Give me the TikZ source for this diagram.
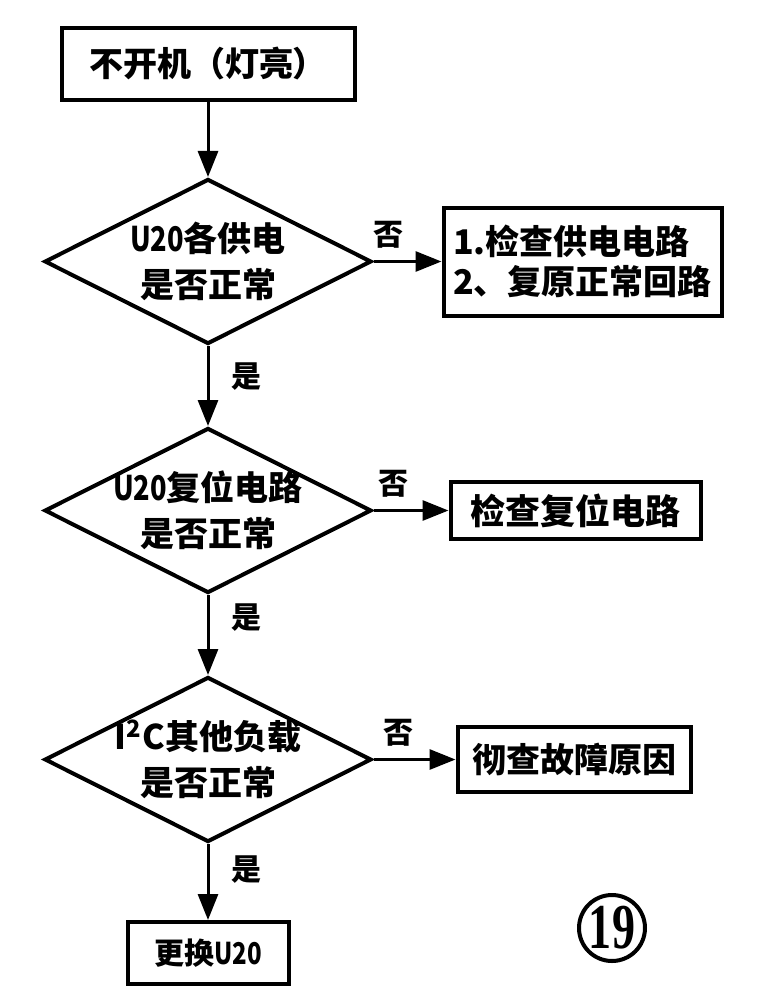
\documentclass[tikz,border=0pt]{standalone}
\usepackage{fontspec}
\setmainfont{Noto Sans CJK SC}
\newfontfamily\numfont{Liberation Serif}
\usepackage{graphicx}
\usepackage{tikz}
\usetikzlibrary{shapes.geometric, arrows.meta, positioning}

\begin{document}
\begin{tikzpicture}[
    box/.style={rectangle, draw=black, line width=2pt, fill=white,
                align=center, font=\bfseries\fontsize{17}{20}\selectfont},
    test/.style={diamond, draw=black, line width=2pt, aspect=2, inner sep=-6pt,
                 minimum width=163.5pt, minimum height=82.5pt,
                 align=center, font=\bfseries\fontsize{17}{23}\selectfont},
    lbl/.style={font=\bfseries\fontsize{15}{17}\selectfont, inner sep=1pt},
    arr/.style={-{Triangle[length=13pt, width=10pt]}, line width=1.5pt},
    node distance=40pt
]
\useasboundingbox (0,0) rectangle (378pt,-495.5pt);

\node[box, minimum width=146.5pt, minimum height=36pt] (start) at (104pt,-32pt)
    {不开机（灯亮）};

\node[test, below=37.5pt of start] (power)
    {\scalebox{0.8}[1]{U20}各供电\\是否正常};

\node[box, right=34pt of power, align=left,
      minimum width=139pt, minimum height=54pt] (fixpower)
    {1.检查供电电路\\2、复原正常回路};

\node[test, below=40pt of power] (reset)
    {\scalebox{0.8}[1]{U20}复位电路\\是否正常};

\node[box, right=37.5pt of reset, font=\bfseries\fontsize{17.5}{20}\selectfont,
      minimum width=125pt, minimum height=28.5pt] (fixreset)
    {检查复位电路};

\node[test, below=40pt of reset] (load)
    {I\textsuperscript{2}C其他负载\\是否正常};

\node[box, right=41pt of load,
      minimum width=116.5pt, minimum height=32.5pt] (fixload)
    {彻查故障原因};

\node[box, below=38pt of load, font=\bfseries\fontsize{15}{18}\selectfont,
      minimum width=80.5pt, minimum height=31pt] (swap)
    {更换\scalebox{0.8}[1]{U20}};

\node[circle, draw=black, line width=2pt, minimum size=33pt, inner sep=0pt,
      font=\numfont\bfseries\fontsize{32}{32}\selectfont] (num) at (306pt,-464pt)
    {\scalebox{0.72}[1]{19}};

\draw[arr] (start) -- (power);
\draw[arr] (power) -- node[lbl, pos=0.22, above=5pt] {否} (fixpower);
\draw[arr] (power) -- node[lbl, pos=0.38, right=10pt] {是} (reset);
\draw[arr] (reset) -- node[lbl, pos=0.27, above=5pt] {否} (fixreset);
\draw[arr] (reset) -- node[lbl, pos=0.28, right=10pt] {是} (load);
\draw[arr] (load)  -- node[lbl, pos=0.3, above=5pt] {否} (fixload);
\draw[arr] (load)  -- node[lbl, pos=0.33, right=10pt] {是} (swap);

\end{tikzpicture}
\end{document}
